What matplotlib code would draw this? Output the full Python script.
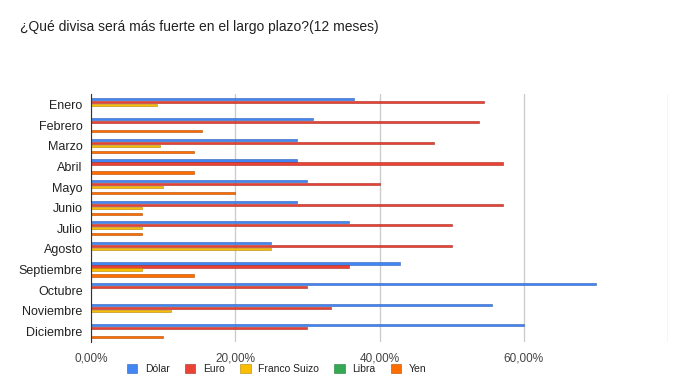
import matplotlib.pyplot as plt
import numpy as np
from matplotlib.ticker import FuncFormatter

plt.rcParams['font.family'] = ['Liberation Sans', 'DejaVu Sans']

meses = ['Enero', 'Febrero', 'Marzo', 'Abril', 'Mayo', 'Junio', 'Julio',
         'Agosto', 'Septiembre', 'Octubre', 'Noviembre', 'Diciembre']

dolar = [36.4, 30.8, 28.6, 28.6, 30.0, 28.6, 35.7, 25.0, 42.9, 70.0, 55.6, 60.0]
euro = [54.5, 53.8, 47.6, 57.1, 40.0, 57.1, 50.0, 50.0, 35.7, 30.0, 33.3, 30.0]
franco = [9.1, 0, 9.5, 0, 10.0, 7.1, 7.1, 25.0, 7.1, 0, 11.1, 0]
libra = [0, 0, 0, 0, 0, 0, 0, 0, 0, 0, 0, 0]
yen = [0, 15.4, 14.3, 14.3, 20.0, 7.1, 7.1, 0, 14.3, 0, 0, 10.0]

series = [('Dólar', dolar, '#4285F4', '#2f5fb3'),
          ('Euro', euro, '#EA4335', '#a52a20'),
          ('Franco Suizo', franco, '#FBBC04', '#b38600'),
          ('Libra', libra, '#34A853', '#247a3b'),
          ('Yen', yen, '#FF6D01', '#b34c00')]

fig = plt.figure(figsize=(6.88, 3.84), dpi=100)
ax = fig.add_axes([0.1323, 0.1104, 0.8387, 0.6438])

y = np.arange(len(meses))
paso = 0.145
for i, (nombre, vals, c, ec) in enumerate(series):
    ax.barh(y + (i - 2) * paso, vals, height=0.11, color=c, edgecolor=ec,
            linewidth=0.4, label=nombre)

ax.set_ylim(len(meses) - 0.5, -0.5)
ax.set_xlim(0, 80)
ax.set_yticks(y)
ax.set_yticklabels(meses, fontsize=9, color='#222222')
ax.set_xticks([0, 20, 40, 60, 80])
ax.xaxis.set_major_formatter(FuncFormatter(
    lambda v, p: '' if v == 80 else ('%.2f%%' % v).replace('.', ',')))
ax.tick_params(axis='x', length=0, labelsize=8.5, labelcolor='#444444', pad=8)
ax.tick_params(axis='y', length=0, pad=6)
ax.grid(axis='x', color='#cccccc', linewidth=1)
ax.set_axisbelow(True)
for s in ['top', 'right', 'bottom']:
    ax.spines[s].set_visible(False)
ax.spines['left'].set_color('#333333')

fig.text(0.029, 0.93, '¿Qué divisa será más fuerte en el largo plazo?(12 meses)',
         fontsize=10, color='#222222', ha='left', va='center')

fig.legend(loc='center', bbox_to_anchor=(0.402, 0.04), ncol=5, frameon=False,
           fontsize=7.5, handlelength=1.0, handleheight=1.0, columnspacing=1.5,
           handletextpad=0.7, labelcolor='#222222')

fig.savefig('out.png', dpi=100)
